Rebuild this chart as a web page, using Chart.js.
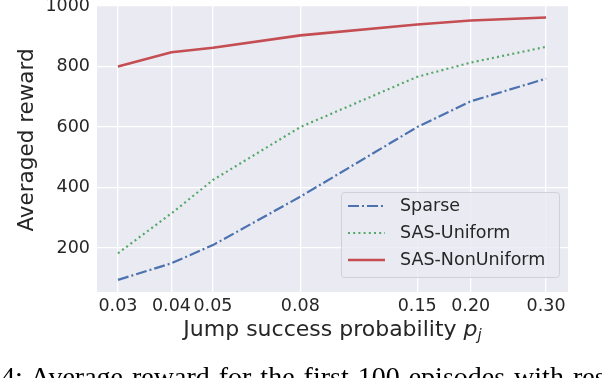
<!DOCTYPE html>
<html>
<head>
<meta charset="utf-8">
<script src="https://cdn.jsdelivr.net/npm/chart.js@4"></script>
<style>
  html, body { margin: 0; padding: 0; background: #fff; }
  #wrap { position: relative; width: 602px; height: 378px; overflow: hidden; }
  #caption {
    position: absolute; left: 1px; top: 363px; white-space: nowrap;
    font-family: "Liberation Serif", serif; font-size: 28px; line-height: 28px;
    color: #000; word-spacing: 2px;
  }
</style>
</head>
<body>
<div id="wrap">
  <canvas id="chart" width="602" height="378"></canvas>
  <div id="caption">4: Average reward for the first 100 episodes with respect to</div>
</div>
<script>
// data
const probs = [0.03, 0.04, 0.05, 0.08, 0.15, 0.20, 0.30];
const tickLabels = ['0.03', '0.04', '0.05', '0.08', '0.15', '0.20', '0.30'];
const yTicks = [200, 400, 600, 800, 1000];
const sparse = [95, 150, 210, 370, 600, 685, 760];
const sasUniform = [183, 315, 425, 600, 766, 813, 865];
const sasNonUniform = [800, 847, 862, 903, 939, 952, 962];

const toPoints = vals => vals.map((v, i) => ({ x: probs[i], y: v }));

const TEXT = '#262626';
const FONT = 'DejaVu Sans';

// grey axes background
const bgPlugin = {
    id: 'bg',
    beforeDraw(chart) {
        const a = chart.chartArea, ctx = chart.ctx;
        ctx.save();
        ctx.fillStyle = '#EAEAF2';
        ctx.fillRect(a.left, a.top, a.right - a.left, a.bottom - a.top);
        ctx.restore();
    }
};

// axis titles + legend box
const decorPlugin = {
    id: 'decor',
    afterDraw(chart) {
        const ctx = chart.ctx, a = chart.chartArea;
        ctx.save();
        ctx.fillStyle = TEXT;

        // y title
        ctx.font = '21.5px ' + FONT;
        ctx.textAlign = 'center';
        ctx.textBaseline = 'middle';
        ctx.translate(27, 140);
        ctx.rotate(-Math.PI / 2);
        ctx.fillText('Averaged reward', 0, 0);
        ctx.setTransform(1, 0, 0, 1, 0, 0);

        // x title with italic p_j
        const main = 'Jump success probability ';
        ctx.font = '22px ' + FONT;
        const w1 = ctx.measureText(main).width;
        ctx.font = 'italic 22px ' + FONT;
        const w2 = ctx.measureText('p').width;
        ctx.font = 'italic 15px ' + FONT;
        const w3 = ctx.measureText('j').width;
        let x = (a.left + a.right) / 2 - (w1 + w2 + w3) / 2;
        const y = 330;
        ctx.textAlign = 'left';
        ctx.font = '22px ' + FONT;
        ctx.fillText(main, x, y);
        x += w1;
        ctx.font = 'italic 22px ' + FONT;
        ctx.fillText('p', x, y);
        x += w2;
        ctx.font = 'italic 15px ' + FONT;
        ctx.fillText('j', x, y + 6);

        // legend
        const bx = 341, by = 192, bw = 218, bh = 85;
        ctx.beginPath();
        ctx.roundRect(bx + 0.5, by + 0.5, bw, bh, 3);
        ctx.fillStyle = 'rgba(234,234,242,0.8)';
        ctx.fill();
        ctx.strokeStyle = '#D0D0D8';
        ctx.lineWidth = 1;
        ctx.stroke();

        const rows = [206, 233, 260];
        ctx.font = '17.5px ' + FONT;
        ctx.textBaseline = 'middle';
        chart.data.datasets.forEach((ds, i) => {
            const ry = rows[i];
            ctx.beginPath();
            ctx.setLineDash(ds.borderDash || []);
            ctx.strokeStyle = ds.borderColor;
            ctx.lineWidth = ds.borderWidth;
            ctx.moveTo(348, ry);
            ctx.lineTo(385, ry);
            ctx.stroke();
            ctx.setLineDash([]);
            ctx.fillStyle = TEXT;
            ctx.fillText(ds.label, 400, ry);
        });
        ctx.restore();
    }
};

const noPad = s => { s.paddingTop = 0; s.paddingBottom = 0; s.paddingLeft = 0; s.paddingRight = 0; };

new Chart(document.getElementById('chart'), {
    type: 'line',
    data: {
        datasets: [
            { label: 'Sparse', data: toPoints(sparse), borderColor: '#4C72B0',
              borderWidth: 2.2, borderDash: [11, 3, 2, 3] },
            { label: 'SAS-Uniform', data: toPoints(sasUniform), borderColor: '#55A868',
              borderWidth: 2.2, borderDash: [2, 3.2] },
            { label: 'SAS-NonUniform', data: toPoints(sasNonUniform), borderColor: '#C44E52',
              borderWidth: 2.6 }
        ]
    },
    options: {
        responsive: false,
        animation: false,
        elements: { point: { radius: 0 }, line: { tension: 0 } },
        layout: { padding: { top: 6, right: 34, bottom: 0, left: 0 } },
        plugins: { legend: { display: false }, tooltip: { enabled: false } },
        scales: {
            x: {
                type: 'logarithmic',
                min: 0.0268,
                max: 0.3376,
                afterBuildTicks: s => { s.ticks = probs.map(v => ({ value: v })); },
                afterFit: s => { s.height = 86; noPad(s); },
                ticks: {
                    autoSkip: false, maxRotation: 0, padding: 4,
                    color: TEXT, font: { family: FONT, size: 17.5 },
                    callback: (v, i) => tickLabels[i]
                },
                grid: { color: '#FFFFFF', lineWidth: 1.3, drawTicks: false },
                border: { display: false }
            },
            y: {
                type: 'linear',
                min: 55,
                max: 1000,
                afterBuildTicks: s => { s.ticks = yTicks.map(v => ({ value: v })); },
                afterFit: s => { s.width = 97; noPad(s); },
                ticks: {
                    padding: 7, color: TEXT, font: { family: FONT, size: 17.5 },
                    callback: v => String(v)
                },
                grid: { color: '#FFFFFF', lineWidth: 1.3, drawTicks: false },
                border: { display: false }
            }
        }
    },
    plugins: [bgPlugin, decorPlugin]
});
</script>
</body>
</html>
